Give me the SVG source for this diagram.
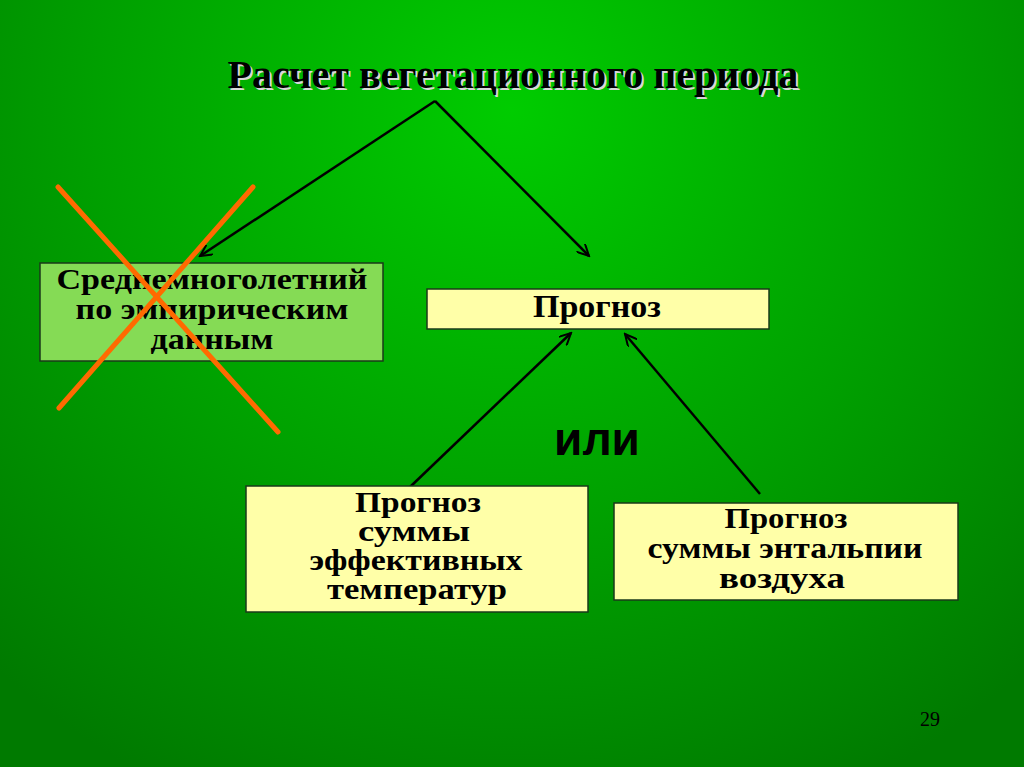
<svg xmlns="http://www.w3.org/2000/svg" width="1024" height="767" viewBox="0 0 1024 767">
<defs>
<radialGradient id="bg" cx="512" cy="110" r="760" gradientUnits="userSpaceOnUse">
<stop offset="0" stop-color="#00cc00"/>
<stop offset="0.55" stop-color="#00a000"/>
<stop offset="1" stop-color="#007a00"/>
</radialGradient>
<marker id="ah" markerWidth="14" markerHeight="12" refX="12" refY="6" orient="auto" markerUnits="userSpaceOnUse">
<path d="M0,0 L12,6 L0,12" fill="none" stroke="#000" stroke-width="2"/>
</marker>
</defs>
<style>
.t{font-family:"Liberation Serif","Times New Roman",serif;font-weight:bold;font-size:29px;fill:#000;text-anchor:middle}
.box{stroke:#1a3a1a;stroke-width:1.5}
.y{fill:#ffffa8}
.c{stroke:#000;stroke-width:2.5;fill:none;marker-end:url(#ah)}
.x{stroke:#ff6a00;stroke-width:5;stroke-linecap:round}
</style>
<rect width="1024" height="767" fill="url(#bg)"/>
<g id="title">
<text x="515" y="90" class="t" style="font-size:40px;fill:#d8d8d8" aria-hidden="true">Расчет вегетационного периода</text>
<text x="513" y="88" class="t" style="font-size:40px">Расчет вегетационного периода</text>
</g>
<g id="connectors">
<line x1="435" y1="101" x2="200" y2="256" class="c"/>
<line x1="435" y1="101" x2="589" y2="256" class="c"/>
<line x1="410" y1="487" x2="571" y2="333" class="c"/>
<line x1="760" y1="494" x2="625" y2="334" class="c"/>
</g>
<g id="node-avg">
<rect x="40" y="263" width="343" height="98" class="box" fill="#85db55"/>
<text class="t" x="212" y="289" textLength="311" lengthAdjust="spacingAndGlyphs">Среднемноголетний</text>
<text class="t" x="212" y="319" textLength="273" lengthAdjust="spacingAndGlyphs">по эмпирическим</text>
<text class="t" x="212" y="349" textLength="123" lengthAdjust="spacingAndGlyphs">данным</text>
</g>
<g id="cross">
<line x1="58" y1="187" x2="278" y2="432" class="x"/>
<line x1="253" y1="187" x2="59" y2="408" class="x"/>
</g>
<g id="node-forecast">
<rect x="427" y="289" width="342" height="40" class="box y"/>
<text class="t" x="597" y="317" textLength="128" lengthAdjust="spacingAndGlyphs" style="font-size:32px">Прогноз</text>
</g>
<g id="node-or">
<text x="597" y="455" style="font-family:'Liberation Sans',Arial,sans-serif;font-weight:bold;font-size:46px;text-anchor:middle">или</text>
</g>
<g id="node-temp">
<rect x="246" y="486" width="342" height="126" class="box y"/>
<text class="t" x="418" y="512" textLength="126" lengthAdjust="spacingAndGlyphs">Прогноз</text>
<text class="t" x="414" y="541" textLength="112" lengthAdjust="spacingAndGlyphs">суммы</text>
<text class="t" x="416" y="570" textLength="213" lengthAdjust="spacingAndGlyphs">эффективных</text>
<text class="t" x="417" y="599" textLength="180" lengthAdjust="spacingAndGlyphs">температур</text>
</g>
<g id="node-enth">
<rect x="614" y="503" width="344" height="97" class="box y"/>
<text class="t" x="786" y="528" textLength="123" lengthAdjust="spacingAndGlyphs">Прогноз</text>
<text class="t" x="785" y="558" textLength="275" lengthAdjust="spacingAndGlyphs">суммы энтальпии</text>
<text class="t" x="782" y="588" textLength="126" lengthAdjust="spacingAndGlyphs">воздуха</text>
</g>
<text x="930" y="726" style="font-family:'Liberation Serif',serif;font-size:20px;text-anchor:middle;fill:#000">29</text>
</svg>
